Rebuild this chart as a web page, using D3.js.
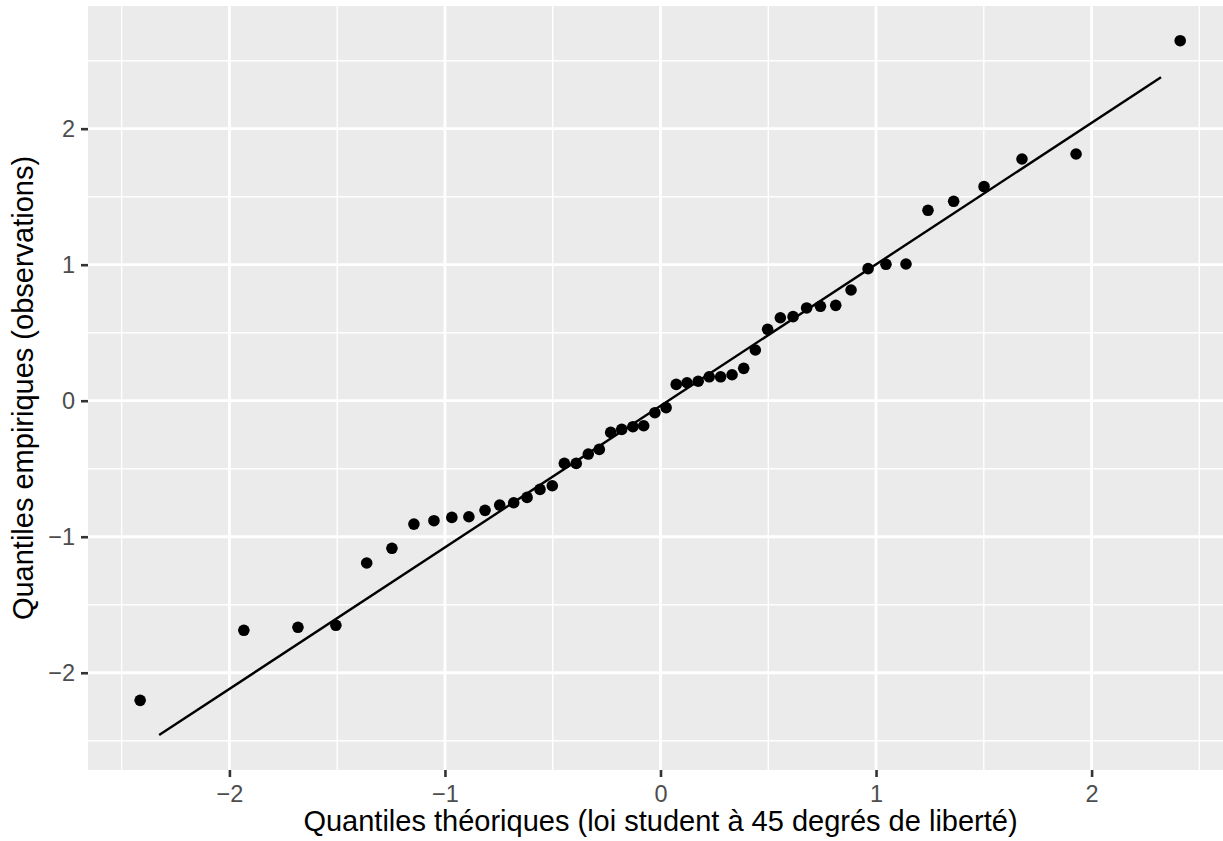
<!DOCTYPE html>
<html>
<head>
<meta charset="utf-8">
<script src="https://cdn.jsdelivr.net/npm/d3@7"></script>
<style>
  html, body { margin: 0; padding: 0; background: #ffffff; }
  svg { display: block; font-family: "Liberation Sans", Arial, Helvetica, sans-serif; }
</style>
</head>
<body>
<svg id="chart" width="1223" height="841"></svg>
<script>
const theoQ = [-2.414, -1.933, -1.682, -1.506, -1.363, -1.246, -1.144, -1.051, -0.968, -0.889,
               -0.814, -0.746, -0.681, -0.619, -0.559, -0.502, -0.446, -0.391, -0.335, -0.284,
               -0.231, -0.180, -0.128, -0.078, -0.026, 0.026, 0.073, 0.123, 0.175, 0.226,
               0.279, 0.332, 0.386, 0.440, 0.497, 0.556, 0.615, 0.678, 0.742, 0.813,
               0.884, 0.963, 1.046, 1.139, 1.241, 1.360, 1.501, 1.677, 1.928, 2.411];
const empQ  = [-2.203, -1.688, -1.666, -1.651, -1.193, -1.085, -0.907, -0.882, -0.858, -0.853,
               -0.806, -0.767, -0.750, -0.711, -0.652, -0.625, -0.461, -0.461, -0.392, -0.358,
               -0.233, -0.211, -0.191, -0.184, -0.088, -0.051, 0.120, 0.132, 0.143, 0.176,
               0.176, 0.191, 0.238, 0.373, 0.525, 0.610, 0.618, 0.682, 0.694, 0.701,
               0.814, 0.971, 1.003, 1.005, 1.400, 1.466, 1.574, 1.777, 1.814, 2.647];
// QQ reference line endpoints
const lineX = [-2.326, 2.322];
const lineY = [-2.458, 2.378];
// Axis ticks
const xTicks = [-2, -1, 0, 1, 2];
const yTicks = [-2, -1, 0, 1, 2];
const xMinor = [-2.5, -1.5, -0.5, 0.5, 1.5, 2.5];
const yMinor = [-2.5, -1.5, -0.5, 0.5, 1.5, 2.5];
const xTitle = "Quantiles théoriques (loi student à 45 degrés de liberté)";
const yTitle = "Quantiles empiriques (observations)";

const panel = { left: 88, top: 6, right: 1233, bottom: 770 };
const svg = d3.select("#chart");

const x = d3.scaleLinear().domain([-2.656, 2.656]).range([panel.left, panel.right]);
const y = d3.scaleLinear().domain([-2.715, 2.902]).range([panel.bottom, panel.top]);

// panel background
svg.append("rect")
  .attr("x", panel.left).attr("y", panel.top)
  .attr("width", panel.right - panel.left).attr("height", panel.bottom - panel.top)
  .attr("fill", "#EBEBEB");

const grid = svg.append("g");
// minor gridlines
grid.selectAll("line.xmin").data(xMinor).join("line")
  .attr("x1", d => x(d)).attr("x2", d => x(d))
  .attr("y1", panel.top).attr("y2", panel.bottom)
  .attr("stroke", "#ffffff").attr("stroke-width", 1.4);
grid.selectAll("line.ymin").data(yMinor).join("line")
  .attr("y1", d => y(d)).attr("y2", d => y(d))
  .attr("x1", panel.left).attr("x2", panel.right)
  .attr("stroke", "#ffffff").attr("stroke-width", 1.4);
// major gridlines
grid.selectAll("line.xmaj").data(xTicks).join("line")
  .attr("x1", d => x(d)).attr("x2", d => x(d))
  .attr("y1", panel.top).attr("y2", panel.bottom)
  .attr("stroke", "#ffffff").attr("stroke-width", 2.8);
grid.selectAll("line.ymaj").data(yTicks).join("line")
  .attr("y1", d => y(d)).attr("y2", d => y(d))
  .attr("x1", panel.left).attr("x2", panel.right)
  .attr("stroke", "#ffffff").attr("stroke-width", 2.8);

// points
svg.append("g").selectAll("circle").data(theoQ.map((v, i) => [v, empQ[i]])).join("circle")
  .attr("cx", d => x(d[0])).attr("cy", d => y(d[1]))
  .attr("r", 5.8).attr("fill", "#000000");

// qq line
svg.append("path")
  .datum(lineX.map((v, i) => [v, lineY[i]]))
  .attr("d", d3.line().x(d => x(d[0])).y(d => y(d[1])))
  .attr("fill", "none").attr("stroke", "#000000").attr("stroke-width", 2.4);

// axes
const xAxis = svg.append("g")
  .attr("transform", `translate(0,${panel.bottom})`)
  .call(d3.axisBottom(x).tickValues(xTicks).tickSize(7).tickPadding(8).tickFormat(d3.format("d")));
const yAxis = svg.append("g")
  .attr("transform", `translate(${panel.left},0)`)
  .call(d3.axisLeft(y).tickValues(yTicks).tickSize(7).tickPadding(6).tickFormat(d3.format("d")));
[xAxis, yAxis].forEach(a => {
  a.select(".domain").remove();
  a.selectAll(".tick line").attr("stroke", "#333333").attr("stroke-width", 2.6);
  a.selectAll(".tick text").attr("fill", "#4D4D4D").attr("font-size", 23.5)
    .attr("font-family", "'Liberation Sans', Arial, sans-serif");
});

// axis titles
svg.append("text")
  .attr("x", (panel.left + 1233) / 2).attr("y", 831)
  .attr("text-anchor", "middle").attr("font-size", 29).attr("fill", "#000000")
  .text(xTitle);
svg.append("text")
  .attr("transform", `translate(33,${(panel.top + panel.bottom) / 2}) rotate(-90)`)
  .attr("text-anchor", "middle").attr("font-size", 29).attr("fill", "#000000")
  .text(yTitle);
</script>
</body>
</html>
